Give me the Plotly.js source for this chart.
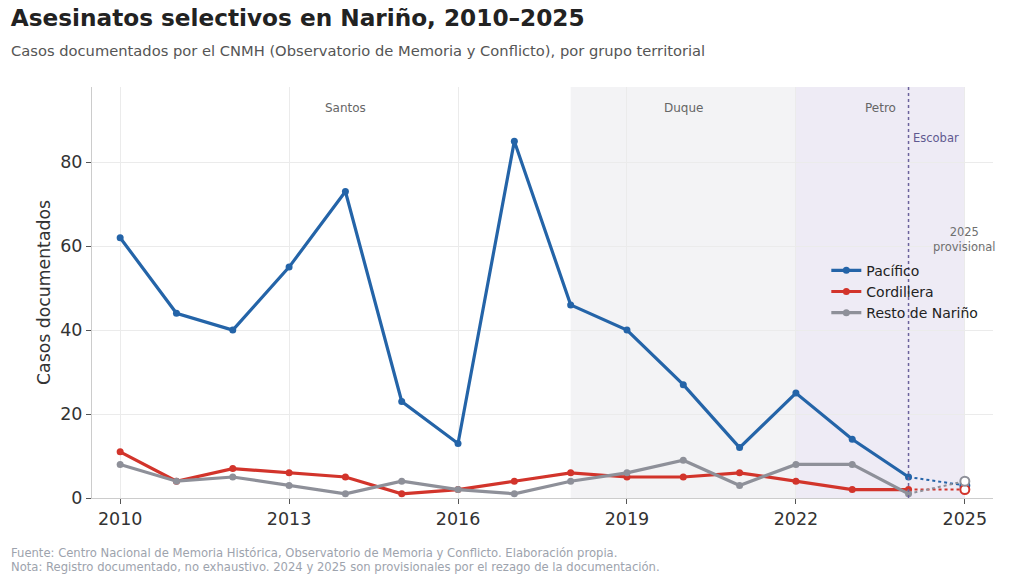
<!DOCTYPE html>
<html>
<head>
<meta charset="utf-8">
<script src="https://cdn.plot.ly/plotly-3.0.1.min.js"></script>
<style>
  html, body { margin: 0; padding: 0; background: #fff; }
  #plot { width: 1024px; height: 580px; }
</style>
</head>
<body>
<div id="plot"></div>
<script>
// años y casos por grupo territorial (2024-2025 provisionales)
var years = [2010, 2011, 2012, 2013, 2014, 2015, 2016, 2017, 2018, 2019, 2020, 2021, 2022, 2023, 2024, 2025];
var pacifico = [62, 44, 40, 55, 73, 23, 13, 85, 46, 40, 27, 12, 25, 14, 5, 3];
var cordillera = [11, 4, 7, 6, 5, 1, 2, 4, 6, 5, 5, 6, 4, 2, 2, 2];
var resto = [8, 4, 5, 3, 1, 4, 2, 1, 4, 6, 9, 3, 8, 8, 1, 4];
var seriesNames = ["Pacífico", "Cordillera", "Resto de Nariño"];
var xTicks = [2010, 2013, 2016, 2019, 2022, 2025];

var colors = ["#2464a8", "#d2342b", "#8e9099"];
var font = "DejaVu Sans, sans-serif";

var allSeries = [pacifico, cordillera, resto];
var n = years.length;
var data = [];

// Trazo sólido hasta 2024
allSeries.forEach(function (vals, i) {
    data.push({
        x: years.slice(0, n - 1),
        y: vals.slice(0, n - 1),
        name: seriesNames[i],
        type: "scatter",
        mode: "lines+markers",
        line: {color: colors[i], width: 3.2},
        marker: {color: colors[i], size: 7},
        hoverinfo: "x+y+name"
    });
});

// Tramo provisional 2024-2025 punteado
allSeries.forEach(function (vals, i) {
    data.push({
        x: years.slice(n - 2),
        y: vals.slice(n - 2),
        type: "scatter",
        mode: "lines",
        line: {color: colors[i], width: 2, dash: "dot"},
        showlegend: false,
        hoverinfo: "skip"
    });
});

// Marcador abierto en 2025
allSeries.forEach(function (vals, i) {
    data.push({
        x: years.slice(n - 1),
        y: vals.slice(n - 1),
        type: "scatter",
        mode: "markers",
        marker: {color: "#ffffff", size: 9, line: {color: colors[i], width: 2}},
        showlegend: false,
        hoverinfo: "x+y"
    });
});

var layout = {
    width: 1024,
    height: 580,
    margin: {l: 92, r: 31, t: 87, b: 82},
    paper_bgcolor: "#ffffff",
    plot_bgcolor: "#ffffff",
    font: {family: font, color: "#333333"},
    title: {
        text: "<b>Asesinatos selectivos en Nariño, 2010–2025</b>",
        font: {family: font, size: 23.2, color: "#222222"},
        xref: "container", x: 0.0105, xanchor: "left",
        yref: "container", y: 0.97, yanchor: "middle"
    },
    xaxis: {
        range: [2009.5, 2025.5],
        tickvals: xTicks,
        ticktext: xTicks.map(String),
        tickfont: {size: 17.5, color: "#333333"},
        ticks: "outside", ticklen: 5, tickcolor: "#555555",
        showgrid: true, gridcolor: "#ebebeb", gridwidth: 1,
        showline: true, linecolor: "#cccccc", linewidth: 1,
        zeroline: false
    },
    yaxis: {
        range: [0, 97.9],
        tickvals: [0, 20, 40, 60, 80],
        tickfont: {size: 17.5, color: "#333333"},
        ticks: "outside", ticklen: 5, tickcolor: "#555555",
        showgrid: true, gridcolor: "#ebebeb", gridwidth: 1,
        showline: true, linecolor: "#cccccc", linewidth: 1,
        zeroline: false,
        title: {text: "Casos documentados", font: {size: 17.3, color: "#333333"}, standoff: 5}
    },
    legend: {
        x: 0.815, y: 0.592, xanchor: "left", yanchor: "top",
        bgcolor: "rgba(0,0,0,0)",
        font: {size: 14, color: "#222222"},
        tracegroupgap: 0
    },
    shapes: [
        {type: "rect", xref: "x", yref: "paper", x0: 2018, x1: 2022, y0: 0, y1: 1,
         fillcolor: "#f3f3f5", line: {width: 0}, layer: "below"},
        {type: "rect", xref: "x", yref: "paper", x0: 2022, x1: 2025, y0: 0, y1: 1,
         fillcolor: "#eeebf5", line: {width: 0}, layer: "below"},
        {type: "line", xref: "x", yref: "paper", x0: 2024, x1: 2024, y0: 0, y1: 1,
         line: {color: "#6b629c", width: 1.5, dash: "dot"}}
    ],
    annotations: [
        {text: "Casos documentados por el CNMH (Observatorio de Memoria y Conflicto), por grupo territorial",
         xref: "paper", yref: "paper", x: -0.0921, y: 1.089, xanchor: "left", yanchor: "middle",
         showarrow: false, font: {size: 14.7, color: "#555555"}},
        {text: "Santos", xref: "x", yref: "paper", x: 2014, y: 0.97, showarrow: false,
         font: {size: 12, color: "#666666"}},
        {text: "Duque", xref: "x", yref: "paper", x: 2020, y: 0.97, showarrow: false,
         font: {size: 12, color: "#666666"}},
        {text: "Petro", xref: "x", yref: "paper", x: 2023.5, y: 0.97, showarrow: false,
         font: {size: 12, color: "#666666"}},
        {text: "Escobar", xref: "x", yref: "paper", x: 2024.05, y: 0.898, xanchor: "left", showarrow: false,
         font: {size: 11.5, color: "#5f5990"}},
        {text: "2025<br>provisional", xref: "x", yref: "paper", x: 2025, y: 0.628, showarrow: false,
         font: {size: 11.5, color: "#6f6f6f"}},
        {text: "Fuente: Centro Nacional de Memoria Histórica, Observatorio de Memoria y Conflicto. Elaboración propia.",
         xref: "paper", yref: "paper", x: -0.0921, y: -0.134, xanchor: "left", yanchor: "middle",
         showarrow: false, font: {size: 11.6, color: "#9da3ad"}},
        {text: "Nota: Registro documentado, no exhaustivo. 2024 y 2025 son provisionales por el rezago de la documentación.",
         xref: "paper", yref: "paper", x: -0.0921, y: -0.168, xanchor: "left", yanchor: "middle",
         showarrow: false, font: {size: 11.6, color: "#9da3ad"}}
    ]
};

Plotly.newPlot("plot", data, layout, {displayModeBar: false, staticPlot: true});
</script>
</body>
</html>
